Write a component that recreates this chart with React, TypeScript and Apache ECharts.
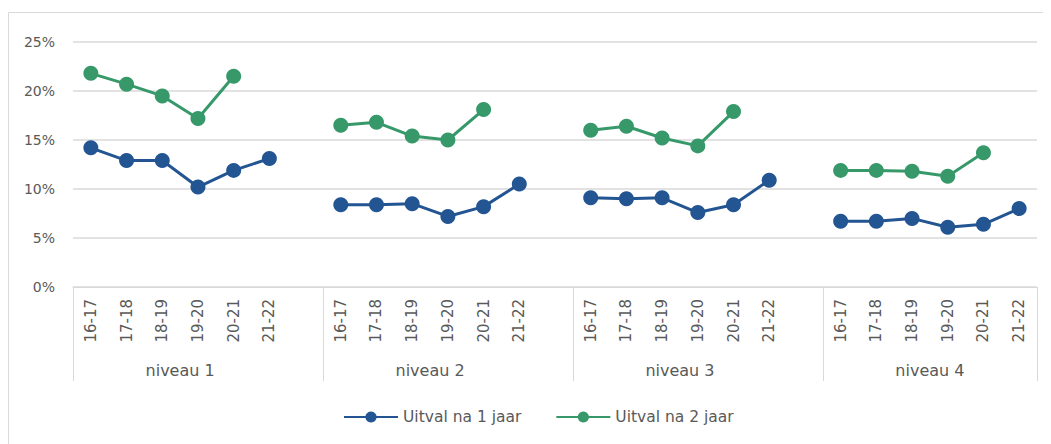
import React, { useEffect, useRef } from "react";
import * as echarts from "echarts";

const years = ["16-17", "17-18", "18-19", "19-20", "20-21", "21-22"];
const groups = ["niveau 1", "niveau 2", "niveau 3", "niveau 4"];

const uitval1: number[][] = [
  [14.2, 12.9, 12.9, 10.2, 11.9, 13.1],
  [8.4, 8.4, 8.5, 7.2, 8.2, 10.5],
  [9.1, 9.0, 9.1, 7.6, 8.4, 10.9],
  [6.7, 6.7, 7.0, 6.1, 6.4, 8.0],
];
const uitval2: (number | null)[][] = [
  [21.8, 20.7, 19.5, 17.2, 21.5, null],
  [16.5, 16.8, 15.4, 15.0, 18.1, null],
  [16.0, 16.4, 15.2, 14.4, 17.9, null],
  [11.9, 11.9, 11.8, 11.3, 13.7, null],
];
const yTicks = [0, 5, 10, 15, 20, 25];

const BLUE = "#235592";
const GREEN = "#37996a";
const TEXT = "#595959";
const GRID = "#d9d9d9";
const FONT = "DejaVu Sans";

function buildCategories() {
  const cats: string[] = [];
  groups.forEach((_, gi) => {
    years.forEach((y) => cats.push(y));
    if (gi < groups.length - 1) cats.push("");
  });
  return cats;
}
function flatten(arr: (number | null)[][]) {
  const out: (number | null)[] = [];
  arr.forEach((g, gi) => {
    g.forEach((v) => out.push(v));
    if (gi < arr.length - 1) out.push(null);
  });
  return out;
}

export default function App() {
  const ref = useRef<HTMLDivElement>(null);
  useEffect(() => {
    if (!ref.current) return;
    const chart = echarts.init(ref.current, undefined, { renderer: "svg" });
    const cats = buildCategories();
    const n = cats.length;
    const groupStarts: number[] = [];
    const groupCenters: number[] = [];
    let pos = 0;
    groups.forEach((_, gi) => {
      groupStarts.push(pos);
      groupCenters.push(pos + years.length / 2);
      pos += years.length + (gi < groups.length - 1 ? 1 : 0);
    });
    const boundaries = [...groupStarts, n];
    chart.setOption({
      animation: false,
      textStyle: { fontFamily: FONT },
      graphic: [
        {
          type: "rect",
          shape: { x: 0.5, y: 4.5, width: 1200, height: 600 },
          style: { fill: "none", stroke: GRID, lineWidth: 1 },
          silent: true,
        },
      ],
      grid: { left: 65, right: 14, top: 34, bottom: 157, containLabel: false },
      legend: {
        top: 396,
        left: 330,
        itemWidth: 54,
        itemHeight: 14,
        itemGap: 34,
        textStyle: { color: TEXT, fontSize: 15.5, fontFamily: FONT },
        data: ["Uitval na 1 jaar", "Uitval na 2 jaar"],
      },
      xAxis: [
        {
          type: "category",
          data: cats,
          boundaryGap: true,
          axisLine: { show: true, lineStyle: { color: GRID, width: 1 } },
          axisTick: { show: false },
          axisLabel: {
            rotate: 90,
            interval: 0,
            margin: 12,
            color: TEXT,
            fontSize: 15,
            fontFamily: FONT,
          },
        },
        {
          type: "value",
          position: "bottom",
          min: 0,
          max: n,
          axisLine: { show: false },
          splitLine: { show: false },
          axisTick: {
            show: true,
            customValues: boundaries,
            length: 94,
            lineStyle: { color: GRID, width: 1 },
          },
          axisLabel: {
            show: true,
            customValues: groupCenters,
            margin: 75,
            color: TEXT,
            fontSize: 16,
            fontFamily: FONT,
            formatter: (v: number) => {
              const i = groupCenters.findIndex((c) => Math.abs(c - v) < 1e-6);
              return i >= 0 ? groups[i] : "";
            },
          },
        },
      ],
      yAxis: {
        type: "value",
        min: yTicks[0],
        max: yTicks[yTicks.length - 1],
        interval: 5,
        axisLine: { show: false },
        axisTick: { show: false },
        splitLine: { lineStyle: { color: GRID, width: 1.5 } },
        axisLabel: {
          formatter: "{value}%",
          color: TEXT,
          fontSize: 14,
          margin: 18,
          fontFamily: FONT,
        },
      },
      series: [
        {
          name: "Uitval na 1 jaar",
          type: "line",
          data: flatten(uitval1),
          connectNulls: false,
          symbol: "circle",
          symbolSize: 15,
          lineStyle: { color: BLUE, width: 3 },
          itemStyle: { color: BLUE },
        },
        {
          name: "Uitval na 2 jaar",
          type: "line",
          data: flatten(uitval2),
          connectNulls: false,
          symbol: "circle",
          symbolSize: 15,
          lineStyle: { color: GREEN, width: 3 },
          itemStyle: { color: GREEN },
        },
      ],
    });
    return () => chart.dispose();
  }, []);
  return <div ref={ref} style={{ width: 1043, height: 436 }} />;
}
